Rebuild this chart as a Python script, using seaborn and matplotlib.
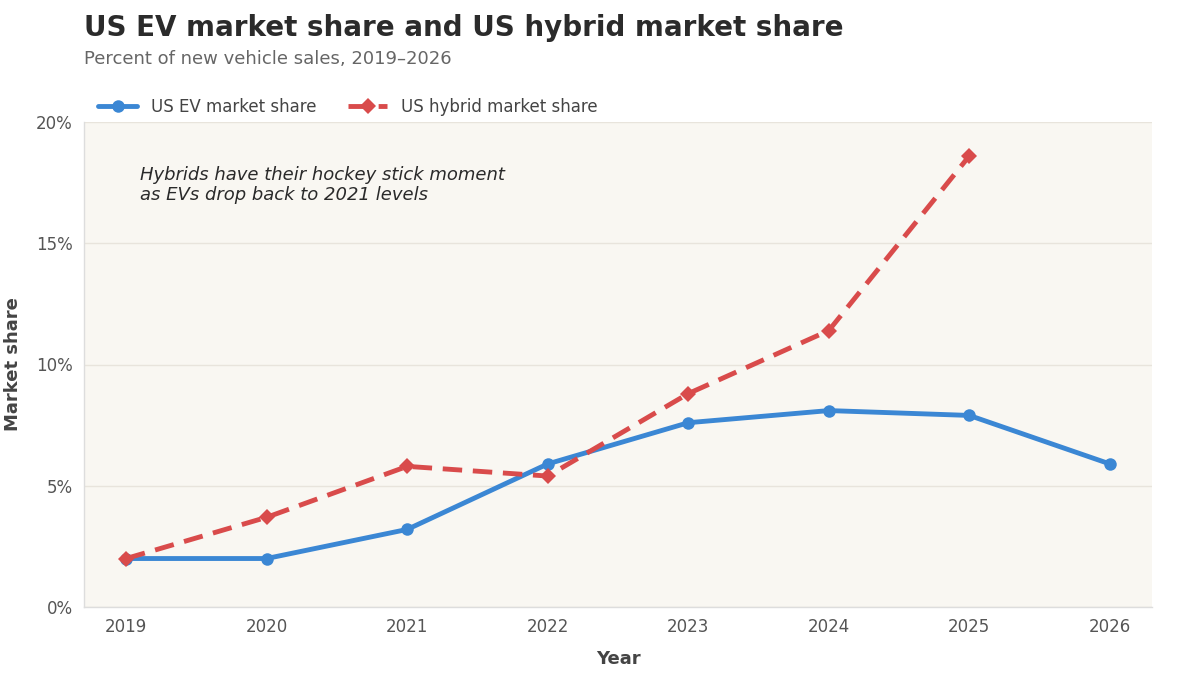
import seaborn as sns
import matplotlib.pyplot as plt
import pandas as pd
from matplotlib.ticker import PercentFormatter

years = [2019, 2020, 2021, 2022, 2023, 2024, 2025, 2026]
ev_share = [2.0, 2.0, 3.2, 5.9, 7.6, 8.1, 7.9, 5.9]
hybrid_years = [2019, 2020, 2021, 2022, 2023, 2024, 2025]
hybrid_share = [2.0, 3.7, 5.8, 5.4, 8.8, 11.4, 18.6]

ev = pd.DataFrame({'year': years, 'share': ev_share})
hy = pd.DataFrame({'year': hybrid_years, 'share': hybrid_share})

sns.set_style('whitegrid')
plt.rcParams['font.family'] = ['DejaVu Sans']

fig = plt.figure(figsize=(12, 6.75), dpi=100)
ax = fig.add_axes([0.07, 0.1007, 0.89, 0.7186])
ax.set_facecolor('#f9f7f2')

sns.lineplot(data=ev, x='year', y='share', ax=ax, color='#3b87d4', linewidth=3.5,
             marker='o', markersize=9, markeredgewidth=0, label='US EV market share')
sns.lineplot(data=hy, x='year', y='share', ax=ax, color='#d94b4b', linewidth=3.5,
             marker='D', markersize=8, markeredgewidth=0, label='US hybrid market share')
ax.lines[1].set_dashes((4, 2.2))

ax.set_xlim(2018.7, 2026.3)
ax.set_ylim(0, 20)
ax.set_xticks(years)
ax.set_yticks([0, 5, 10, 15, 20])
ax.yaxis.set_major_formatter(PercentFormatter(decimals=0))
ax.tick_params(labelsize=12, colors='#555555', length=0, pad=8)
ax.grid(axis='x', visible=False)
ax.grid(axis='y', color='#e8e4dc', linewidth=1)
for s in ['top', 'right']:
    ax.spines[s].set_visible(False)
for s in ['left', 'bottom']:
    ax.spines[s].set_color('#dddddd')
    ax.spines[s].set_linewidth(1)

ax.set_xlabel('Year', fontsize=13, fontweight='bold', color='#444444', labelpad=10)
ax.set_ylabel('Market share', fontsize=13, fontweight='bold', color='#444444', labelpad=10)

leg = ax.legend(loc='lower left', bbox_to_anchor=(0.004, 0.992), ncol=2, frameon=False,
                fontsize=12, handlelength=2.35, columnspacing=1.92, borderaxespad=0.2,
                labelcolor='#444444')

ax.text(0.052, 0.91, 'Hybrids have their hockey stick moment\nas EVs drop back to 2021 levels',
        transform=ax.transAxes, fontsize=13, fontstyle='italic', color='#2a2a2a',
        va='top', ha='left', linespacing=1.2)

fig.text(0.07, 0.958, 'US EV market share and US hybrid market share', fontsize=20,
         fontweight='bold', color='#2b2b2b', va='center', ha='left')
fig.text(0.07, 0.913, 'Percent of new vehicle sales, 2019\u20132026', fontsize=13,
         color='#666666', va='center', ha='left')

fig.savefig('out.png', dpi=100)
